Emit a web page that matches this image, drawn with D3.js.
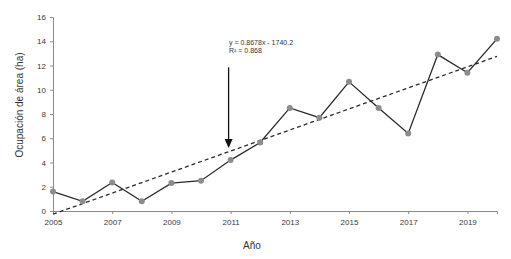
<!DOCTYPE html>
<html><head><meta charset="utf-8">
<script src="https://cdn.jsdelivr.net/npm/d3@7"></script>
<style>body{margin:0;background:#fff}svg{display:block}</style>
</head><body>
<svg id="c" width="511" height="259"></svg>
<script>
const years = [2005,2006,2007,2008,2009,2010,2011,2012,2013,2014,2015,2016,2017,2018,2019,2020];
const area = [1.6,0.8,2.35,0.8,2.3,2.5,4.2,5.65,8.5,7.7,10.65,8.5,6.4,12.9,11.4,14.2];
const yTicks = [0,2,4,6,8,10,12,14,16];
const xTicks = [2005,2007,2009,2011,2013,2015,2017,2019];
const slope = 0.8678, intercept = -1740.2;
const eqLabel = "y = 0.8678x - 1740.2";
const r2Label = "R² = 0.868";
const arrowYear = 2011, arrowFrom = 11.85, arrowTo = 5.2;

const svg = d3.select("#c");
const font = "Arial, 'Liberation Sans', sans-serif";
const x = d3.scaleLinear().domain([2005,2020]).range([53,497]);
const y = d3.scaleLinear().domain([0,16]).range([211,17]);

const axisCol = "#8a8a8a", textCol = "#3a3a3a";

const yAxis = svg.append("g").attr("transform","translate(53,0)")
  .call(d3.axisLeft(y).tickValues(yTicks).tickSize(3).tickPadding(4));
const xAxis = svg.append("g").attr("transform","translate(0,211)")
  .call(d3.axisBottom(x).tickValues(xTicks).tickFormat(d3.format("d")).tickSize(3).tickPadding(5));
[yAxis,xAxis].forEach(g=>{
  g.selectAll("path,line").attr("stroke",axisCol).attr("stroke-width",1);
  g.selectAll("text").attr("fill",textCol).style("font-family",font).style("font-size","8px");
});

// trendline
const tx = [2005,2020];
svg.append("line")
  .attr("x1",x(tx[0])).attr("y1",y(slope*tx[0]+intercept))
  .attr("x2",x(tx[1])).attr("y2",y(slope*tx[1]+intercept))
  .attr("stroke","#2a2a2a").attr("stroke-width",1.3).attr("stroke-dasharray","4,3");

// data line
svg.append("path").datum(years.map((d,i)=>[d,area[i]]))
  .attr("fill","none").attr("stroke","#2a2a2a").attr("stroke-width",1.3)
  .attr("d",d3.line().x(d=>x(d[0])).y(d=>y(d[1])));

svg.selectAll("circle.pt").data(years).join("circle").attr("class","pt")
  .attr("cx",d=>x(d)).attr("cy",(d,i)=>y(area[i])).attr("r",3)
  .attr("fill","#8c8c8c");

// arrow
const ax = x(arrowYear)-2;
svg.append("line").attr("x1",ax).attr("x2",ax).attr("y1",y(arrowFrom)).attr("y2",y(arrowTo)-6)
  .attr("stroke","#111").attr("stroke-width",1.3);
svg.append("path")
  .attr("d",`M${ax-4},${y(arrowTo)-9}L${ax+4},${y(arrowTo)-9}L${ax},${y(arrowTo)}Z`)
  .attr("fill","#111");

// equation
svg.append("text").attr("x",229).attr("y",44.5).text(eqLabel)
  .attr("fill","#333").style("font-family",font).style("font-size","7px");
svg.append("text").attr("x",229).attr("y",53).text(r2Label)
  .attr("fill","#333").style("font-family",font).style("font-size","7px");

// axis titles
svg.append("text").attr("transform","translate(23,105) rotate(-90)").attr("text-anchor","middle")
  .text("Ocupación de área (ha)").attr("fill","#333").style("font-family",font).style("font-size","10px");
svg.append("text").attr("x",252).attr("y",249).attr("text-anchor","middle")
  .text("Año").attr("fill","#333").style("font-family",font).style("font-size","10px");
</script>
</body></html>
